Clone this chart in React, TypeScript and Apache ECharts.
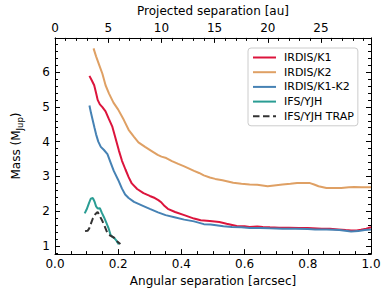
import React, { useEffect, useRef } from 'react';
import * as echarts from 'echarts';

// IRDIS/K1
const k1Sep = [0.109, 0.117, 0.124, 0.13, 0.135, 0.142, 0.15, 0.16, 0.17, 0.181, 0.19, 0.202, 0.212, 0.223, 0.233, 0.243, 0.26, 0.28, 0.3, 0.316, 0.327, 0.337, 0.347, 0.357, 0.38, 0.409, 0.44, 0.461, 0.49, 0.52, 0.543, 0.575, 0.6, 0.616, 0.64, 0.658, 0.68, 0.709, 0.74, 0.771, 0.8, 0.844, 0.87, 0.896, 0.92, 0.937, 0.955, 0.968, 0.985, 1.0];
const k1Mass = [5.89, 5.75, 5.62, 5.4, 5.2, 5.07, 4.99, 4.87, 4.66, 4.44, 4.15, 3.75, 3.45, 3.2, 2.98, 2.8, 2.64, 2.52, 2.44, 2.38, 2.32, 2.25, 2.15, 2.07, 1.98, 1.89, 1.79, 1.74, 1.72, 1.69, 1.64, 1.58, 1.57, 1.55, 1.56, 1.55, 1.54, 1.53, 1.53, 1.52, 1.52, 1.5, 1.5, 1.48, 1.46, 1.45, 1.45, 1.47, 1.5, 1.54];

// IRDIS/K2
const k2Sep = [0.122, 0.13, 0.14, 0.15, 0.16, 0.171, 0.185, 0.2, 0.218, 0.233, 0.25, 0.264, 0.285, 0.306, 0.325, 0.337, 0.352, 0.37, 0.39, 0.409, 0.44, 0.456, 0.471, 0.49, 0.507, 0.53, 0.564, 0.59, 0.616, 0.64, 0.673, 0.7, 0.72, 0.745, 0.766, 0.79, 0.807, 0.82, 0.834, 0.859, 0.88, 0.906, 0.93, 0.947, 0.97, 1.0];
const k2Mass = [6.68, 6.45, 6.2, 5.95, 5.62, 5.38, 5.12, 4.92, 4.62, 4.34, 4.14, 3.98, 3.85, 3.73, 3.62, 3.57, 3.53, 3.44, 3.36, 3.29, 3.16, 3.1, 3.03, 2.97, 2.93, 2.89, 2.82, 2.79, 2.77, 2.76, 2.72, 2.75, 2.77, 2.79, 2.81, 2.81, 2.81, 2.77, 2.72, 2.67, 2.67, 2.67, 2.69, 2.7, 2.69, 2.69];

// IRDIS/K1-K2
const k12Sep = [0.109, 0.114, 0.119, 0.125, 0.13, 0.137, 0.145, 0.155, 0.166, 0.176, 0.186, 0.2, 0.212, 0.222, 0.233, 0.25, 0.28, 0.3, 0.326, 0.35, 0.378, 0.409, 0.44, 0.471, 0.492, 0.51, 0.533, 0.56, 0.59, 0.616, 0.65, 0.68, 0.72, 0.76, 0.8, 0.823, 0.86, 0.9, 0.937, 0.96, 0.98, 1.0];
const k12Mass = [5.04, 4.82, 4.63, 4.4, 4.21, 4.0, 3.85, 3.76, 3.64, 3.4, 3.16, 2.9, 2.65, 2.48, 2.38, 2.27, 2.15, 2.07, 1.97, 1.89, 1.83, 1.76, 1.71, 1.63, 1.62, 1.6, 1.57, 1.55, 1.54, 1.52, 1.52, 1.51, 1.5, 1.5, 1.49, 1.48, 1.48, 1.46, 1.42, 1.43, 1.46, 1.48];

// IFS/YJH
const yjhSep = [0.094, 0.1, 0.107, 0.113, 0.12, 0.125, 0.13, 0.135, 0.142, 0.148, 0.155, 0.162, 0.17, 0.176, 0.182, 0.188, 0.195, 0.202];
const yjhMass = [1.94, 2.05, 2.22, 2.36, 2.38, 2.28, 2.14, 2.08, 2.09, 1.96, 1.83, 1.68, 1.5, 1.32, 1.26, 1.23, 1.15, 1.05];

// IFS/YJH TRAP
const trapSep = [0.095, 0.103, 0.108, 0.114, 0.12, 0.128, 0.135, 0.142, 0.15, 0.158, 0.166, 0.175, 0.186, 0.196, 0.207];
const trapMass = [1.43, 1.44, 1.5, 1.65, 1.8, 1.92, 1.98, 1.86, 1.72, 1.55, 1.37, 1.3, 1.25, 1.14, 1.06];

const seriesNames = ['IRDIS/K1', 'IRDIS/K2', 'IRDIS/K1-K2', 'IFS/YJH', 'IFS/YJH TRAP'];
const seriesColors = ['#dc143c', '#dfa064', '#4682b4', '#2a9d94', '#333333'];

const sepMin = 0;
const sepMax = 1;
const auMax = 29.7;
const massMin = 0.77;
const massMax = 6.98;

const FONT = 'DejaVu Sans';

function pairs(xs: number[], ys: number[]) {
  return xs.map((x, i) => [x, ys[i]]);
}

export default function App() {
  const ref = useRef<HTMLDivElement>(null);
  useEffect(() => {
    if (!ref.current) return;
    const chart = echarts.init(ref.current, null, { renderer: 'svg' });
    const axisCommon = {
      type: 'value' as const,
      axisLine: { show: true, onZero: false, lineStyle: { color: '#000', width: 1 } },
      axisTick: { show: true, inside: true, length: 5, lineStyle: { color: '#000', width: 1 } },
      splitLine: { show: false },
      axisLabel: { color: '#000', fontSize: 12, fontFamily: FONT },
      nameTextStyle: { color: '#000', fontSize: 12, fontFamily: FONT },
    };
    const data = [
      pairs(k1Sep, k1Mass),
      pairs(k2Sep, k2Mass),
      pairs(k12Sep, k12Mass),
      pairs(yjhSep, yjhMass),
      pairs(trapSep, trapMass),
    ];
    chart.setOption({
      animation: false,
      backgroundColor: '#fff',
      textStyle: { fontFamily: FONT },
      grid: { left: 48, top: 32, width: 323, height: 225, containLabel: false },
      xAxis: [
        {
          ...axisCommon,
          position: 'bottom',
          min: sepMin,
          max: sepMax,
          interval: 0.2,
          minorTick: { show: true, splitNumber: 4, length: 3, lineStyle: { color: '#000', width: 1 } },
          axisLabel: { ...axisCommon.axisLabel, margin: 4, formatter: (v: number) => v.toFixed(1) },
          name: 'Angular separation [arcsec]',
          nameLocation: 'middle',
          nameGap: 15,
        },
        {
          ...axisCommon,
          position: 'top',
          min: 0,
          max: auMax,
          minInterval: 5,
          maxInterval: 5,
          minorTick: { show: true, splitNumber: 5, length: 3, lineStyle: { color: '#000', width: 1 } },
          axisLabel: {
            ...axisCommon.axisLabel,
            margin: 4,
            formatter: (v: number) => (Math.abs(v / 5 - Math.round(v / 5)) < 1e-6 ? String(Math.round(v)) : ''),
          },
          name: 'Projected separation [au]',
          nameLocation: 'middle',
          nameGap: 18,
        },
      ],
      yAxis: [
        {
          ...axisCommon,
          position: 'left',
          min: massMin,
          max: massMax,
          minInterval: 1,
          maxInterval: 1,
          minorTick: { show: true, splitNumber: 5, length: 3, lineStyle: { color: '#000', width: 1 } },
          axisLabel: {
            ...axisCommon.axisLabel,
            margin: 5,
            formatter: (v: number) => (Math.abs(v - Math.round(v)) < 1e-6 ? String(Math.round(v)) : ''),
          },
          name: 'Mass (M{sub|Jup})',
          nameLocation: 'middle',
          nameGap: 31,
          nameTextStyle: {
            color: '#000',
            fontSize: 12,
            fontFamily: FONT,
            lineHeight: 16,
            rich: {
              sub: { fontSize: 8.5, fontFamily: FONT, color: '#000', lineHeight: 9, verticalAlign: 'bottom' },
            },
          },
        },
        {
          ...axisCommon,
          position: 'right',
          min: massMin,
          max: massMax,
          minInterval: 1,
          maxInterval: 1,
          minorTick: { show: true, splitNumber: 5, length: 3, lineStyle: { color: '#000', width: 1 } },
          axisLabel: { show: false },
        },
      ],
      legend: {
        orient: 'vertical',
        left: 248,
        top: 48,
        padding: [4, 4, 4, 4],
        itemWidth: 23,
        itemHeight: 12,
        itemGap: 3.7,
        backgroundColor: 'rgba(255,255,255,0.8)',
        borderColor: '#cccccc',
        borderWidth: 1,
        borderRadius: 3,
        itemStyle: { opacity: 0 },
        textStyle: { fontSize: 11, color: '#000', fontFamily: FONT, padding: [0, 0, 0, 3] },
        data: seriesNames,
      },
      series: seriesNames.map((name, i) => ({
        name,
        type: 'line',
        xAxisIndex: 0,
        yAxisIndex: 0,
        data: data[i],
        symbol: 'none',
        showSymbol: false,
        color: seriesColors[i],
        lineStyle: { color: seriesColors[i], width: 2, type: i === 4 ? [6.5, 3.5] : 'solid' },
        z: 2 + i,
      })),
    });
    return () => chart.dispose();
  }, []);
  return <div ref={ref} style={{ position: 'absolute', left: 0, top: 0, width: 386, height: 292 }} />;
}
